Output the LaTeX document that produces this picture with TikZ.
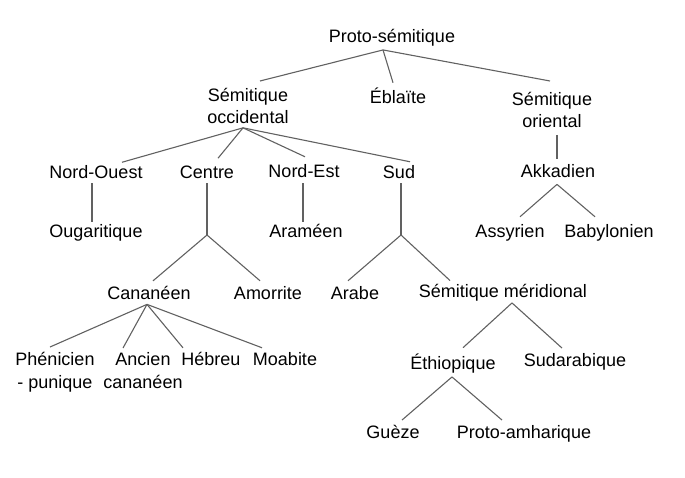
\documentclass[tikz,border=0pt]{standalone}
\usepackage{fontspec}
\setmainfont{Liberation Sans}

\begin{document}
\begin{tikzpicture}[x=1pt,y=-1pt,
  lang/.style={font=\fontsize{18}{22}\selectfont,inner sep=0pt,align=center},
  branch/.style={draw=black!62,line width=1.1pt}]
\useasboundingbox (0,0) rectangle (685,477);
% top level
\node[lang,anchor=base] (proto) at (392,42) {Proto-sémitique};
\node[lang,anchor=north] (socc) at (248,88) {Sémitique\\occidental};
\node[lang,anchor=base] (eblaite) at (398,103) {Éblaïte};
\node[lang,anchor=north] (sor) at (552,92) {Sémitique\\oriental};
% second level
\node[lang,anchor=base] (nwest) at (96,178) {Nord-Ouest};
\node[lang,anchor=base] (centre) at (207,178) {Centre};
\node[lang,anchor=base] (neast) at (304,177) {Nord-Est};
\node[lang,anchor=base] (sud) at (399,178) {Sud};
\node[lang,anchor=base] (akk) at (558,177) {Akkadien};
\node[lang,anchor=base] (ougar) at (96,237) {Ougaritique};
\node[lang,anchor=base] (aram) at (306,237) {Araméen};
\node[lang,anchor=base] (assy) at (510,237) {Assyrien};
\node[lang,anchor=base] (baby) at (609,237) {Babylonien};
\node[lang,anchor=base] (canan) at (149,299) {Cananéen};
\node[lang,anchor=base] (amor) at (268,299) {Amorrite};
\node[lang,anchor=base] (arabe) at (355,299) {Arabe};
\node[lang,anchor=base] (smer) at (503,297) {Sémitique méridional};
% lower levels
\node[lang,anchor=north,font=\fontsize{18}{23}\selectfont] (phen) at (55,352) {Phénicien\\- punique};
\node[lang,anchor=north,font=\fontsize{18}{23}\selectfont] (ancien) at (143,352) {Ancien\\cananéen};
\node[lang,anchor=base] (hebreu) at (211,365) {Hébreu};
\node[lang,anchor=base] (moab) at (285,365) {Moabite};
\node[lang,anchor=base] (ethio) at (453,369) {Éthiopique};
\node[lang,anchor=base] (sudar) at (575,366) {Sudarabique};
\node[lang,anchor=base] (gueze) at (393,438) {Guèze};
\node[lang,anchor=base] (pamh) at (524,438) {Proto-amharique};
% forks
\coordinate (cfork) at (207,235);
\coordinate (sfork) at (401,235);
% connectors
\draw[branch] ([xshift=-9pt,yshift=-4pt]proto.south) -- ([xshift=12pt,yshift=7pt]socc.north);
\draw[branch] ([xshift=-9pt,yshift=-4pt]proto.south) -- ([xshift=-5pt,yshift=4.5pt]eblaite.north);
\draw[branch] ([xshift=-9pt,yshift=-4pt]proto.south) -- ([xshift=-2pt,yshift=11pt]sor.north);
\draw[branch] ([xshift=-5pt,yshift=-4pt]socc.south) -- ([xshift=26pt,yshift=2.5pt]nwest.north);
\draw[branch] ([xshift=-5pt,yshift=-4pt]socc.south) -- ([xshift=11pt,yshift=7pt]centre.north);
\draw[branch] ([xshift=-5pt,yshift=-4pt]socc.south) -- ([xshift=1pt,yshift=7pt]neast.north);
\draw[branch] ([xshift=-5pt,yshift=-4pt]socc.south) -- ([xshift=11pt,yshift=3pt]sud.north);
\draw[branch] ([xshift=-4pt,yshift=-5pt]nwest.south) -- ([xshift=-4pt,yshift=2pt]ougar.north);
\draw[branch] ([yshift=-5pt]centre.south) -- (cfork);
\draw[branch] (cfork) -- ([xshift=4pt,yshift=4.7pt]canan.north);
\draw[branch] (cfork) -- ([xshift=-8pt,yshift=5pt]amor.north);
\draw[branch] ([xshift=-1pt,yshift=-6pt]neast.south) -- ([xshift=-3pt,yshift=1.7pt]aram.north);
\draw[branch] ([xshift=2pt,yshift=-5pt]sud.south) -- (sfork);
\draw[branch] (sfork) -- ([xshift=-7pt,yshift=5pt]arabe.north);
\draw[branch] (sfork) -- ([xshift=-53pt,yshift=3pt]smer.north);
\draw[branch] ([xshift=5pt,yshift=-7pt]sor.south) -- ([xshift=-1pt,yshift=5pt]akk.north);
\draw[branch] ([xshift=-1pt,yshift=-7pt]akk.south) -- ([xshift=10pt,yshift=7pt]assy.north);
\draw[branch] ([xshift=-1pt,yshift=-7pt]akk.south) -- ([xshift=-14pt,yshift=7pt]baby.north);
\draw[branch] ([xshift=-2pt,yshift=-5pt]canan.south) -- ([xshift=-5pt,yshift=5pt]phen.north);
\draw[branch] ([xshift=-2pt,yshift=-5pt]canan.south) -- ([xshift=-20pt,yshift=4pt]ancien.north);
\draw[branch] ([xshift=-2pt,yshift=-5pt]canan.south) -- ([xshift=-28pt,yshift=3.7pt]hebreu.north);
\draw[branch] ([xshift=-2pt,yshift=-5pt]canan.south) -- ([xshift=-23pt,yshift=4pt]moab.north);
\draw[branch] ([xshift=9pt,yshift=-2pt]smer.south) -- ([xshift=10pt,yshift=5.5pt]ethio.north);
\draw[branch] ([xshift=9pt,yshift=-2pt]smer.south) -- ([xshift=-13pt,yshift=4.7pt]sudar.north);
\draw[branch] ([xshift=-1pt,yshift=-4pt]ethio.south) -- ([xshift=9pt,yshift=4.5pt]gueze.north);
\draw[branch] ([xshift=-1pt,yshift=-4pt]ethio.south) -- ([xshift=-22pt,yshift=4.7pt]pamh.north);
\end{tikzpicture}
\end{document}
